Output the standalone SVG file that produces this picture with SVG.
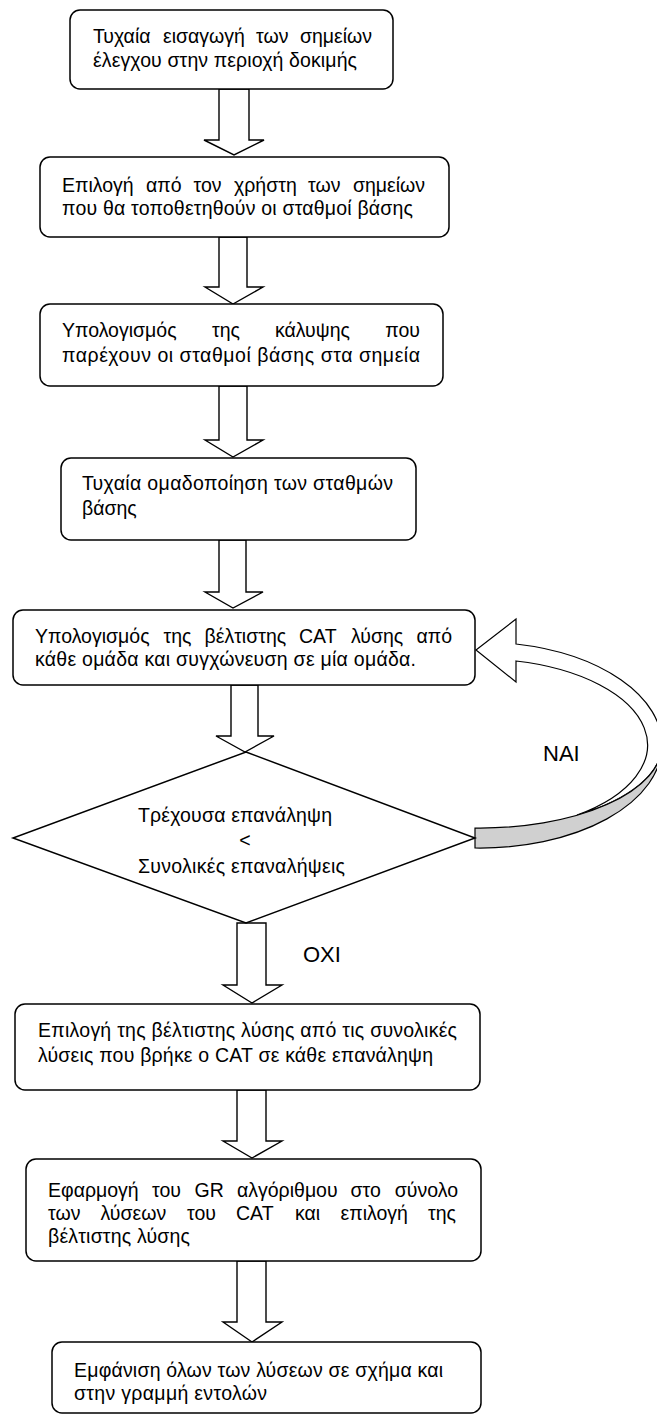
<svg xmlns="http://www.w3.org/2000/svg" width="657" height="1421" viewBox="0 0 657 1421">
<style>
.box{fill:#fff;stroke:#000;stroke-width:1.5}
.arr{fill:#fff;stroke:#000;stroke-width:1.4;stroke-linejoin:miter}
.t{font-family:"Liberation Sans","DejaVu Sans",sans-serif;font-size:19.5px;fill:#000}
.e{text-anchor:end}
.lbl{font-family:"Liberation Sans","DejaVu Sans",sans-serif;font-size:22px;fill:#000}
</style>
<rect width="657" height="1421" fill="#fff"/>
<g id="connectors">
  <polygon class="arr" points="219,89 249,89 249,140 264,140 234,155 204,140 219,140"/>
  <polygon class="arr" points="219,237 247,237 247,287 263,287 233,304 205,287 219,287"/>
  <polygon class="arr" points="219,386 247,386 247,440 263,440 233,457 205,440 219,440"/>
  <polygon class="arr" points="219,540 246,540 246,592 263,592 233,608 205,592 219,592"/>
  <polygon class="arr" points="231,685 258,685 258,736 274,736 245,752 216,736 231,736"/>
  <polygon class="arr" points="237,923 266,923 266,985 282,985 252,1003 223,985 237,985"/>
  <polygon class="arr" points="237,1090 266,1090 266,1141 282,1141 252,1158 223,1141 237,1141"/>
  <polygon class="arr" points="237,1261 266,1261 266,1322 282,1322 252,1342 223,1322 237,1322"/>
  <g id="loop-arrow">
    <path d="M516,644 L516,619 L476,650 L516,682 L516,661 A168,86 0 0 1 577,815 A182,83 0 0 0 662,745 A182,103 0 0 0 516,644 Z" fill="#fff" stroke="#000" stroke-width="1.2"/>
    <path d="M662,745 A182,103 0 0 1 475,848 L475,828 A182,83 0 0 0 662,745 Z" fill="#d0d0d0" stroke="#000" stroke-width="1.2"/>
  </g>
  <text class="lbl" x="543" y="761">ΝΑΙ</text>
  <text class="lbl" x="303" y="962">ΟΧΙ</text>
</g>
<g id="node1">
  <rect class="box" x="70" y="10" width="323" height="79" rx="10"/>
  <text class="t" x="93" y="43">Τυχαία</text>
  <text class="t" x="163" y="43">εισαγωγή</text>
  <text class="t" x="256" y="43">των</text>
  <text class="t e" x="372" y="43">σημείων</text>
  <text class="t" x="93" y="67" textLength="264" lengthAdjust="spacing">έλεγχου στην περιοχή δοκιμής</text>
</g>
<g id="node2">
  <rect class="box" x="40" y="157" width="409" height="80" rx="10"/>
  <text class="t" x="62" y="192">Επιλογή</text>
  <text class="t" x="146" y="192">από</text>
  <text class="t" x="193.5" y="192">τον</text>
  <text class="t" x="234" y="192">χρήστη</text>
  <text class="t" x="308" y="192">των</text>
  <text class="t e" x="425" y="192">σημείων</text>
  <text class="t" x="62" y="215" textLength="351" lengthAdjust="spacing">που θα τοποθετηθούν οι σταθμοί βάσης</text>
</g>
<g id="node3">
  <rect class="box" x="40" y="304" width="403" height="82" rx="10"/>
  <text class="t" x="62" y="337">Υπολογισμός</text>
  <text class="t" x="212" y="337">της</text>
  <text class="t" x="275" y="337">κάλυψης</text>
  <text class="t e" x="420" y="337">που</text>
  <text class="t" x="62" y="362" textLength="358" lengthAdjust="spacing">παρέχουν οι σταθμοί βάσης στα σημεία</text>
</g>
<g id="node4">
  <rect class="box" x="61" y="458" width="355" height="82" rx="10"/>
  <text class="t" x="82" y="490" textLength="311" lengthAdjust="spacing">Τυχαία ομαδοποίηση των σταθμών</text>
  <text class="t" x="82" y="515">βάσης</text>
</g>
<g id="node5">
  <rect class="box" x="13" y="610" width="462" height="75" rx="10"/>
  <text class="t" x="35" y="643">Υπολογισμός</text>
  <text class="t" x="163.5" y="643">της</text>
  <text class="t" x="204.5" y="643">βέλτιστης</text>
  <text class="t" x="299" y="643">CAT</text>
  <text class="t" x="351" y="643">λύσης</text>
  <text class="t e" x="452" y="643">από</text>
  <text class="t" x="35" y="666" textLength="381" lengthAdjust="spacing">κάθε ομάδα και συγχώνευση σε μία ομάδα.</text>
</g>
<g id="decision">
  <polygon class="box" points="246,752 475,838 246,923 13,838"/>
  <text class="t" x="138" y="822" textLength="194" lengthAdjust="spacing">Τρέχουσα επανάληψη</text>
  <text class="t" x="245" y="847" text-anchor="middle">&lt;</text>
  <text class="t" x="138" y="873" textLength="207" lengthAdjust="spacing">Συνολικές επαναλήψεις</text>
</g>
<g id="node6">
  <rect class="box" x="15" y="1004" width="465" height="86" rx="10"/>
  <text class="t" x="38" y="1037" textLength="419" lengthAdjust="spacing">Επιλογή της βέλτιστης λύσης από τις συνολικές</text>
  <text class="t" x="38" y="1062" textLength="395" lengthAdjust="spacing">λύσεις που βρήκε ο CAT σε κάθε επανάληψη</text>
</g>
<g id="node7">
  <rect class="box" x="26" y="1159" width="455" height="102" rx="10"/>
  <text class="t" x="48" y="1197">Εφαρμογή</text>
  <text class="t" x="152" y="1197">του</text>
  <text class="t" x="194.5" y="1197">GR</text>
  <text class="t" x="237" y="1197">αλγόριθμου</text>
  <text class="t" x="350.5" y="1197">στο</text>
  <text class="t e" x="458" y="1197">σύνολο</text>
  <text class="t" x="48" y="1220">των</text>
  <text class="t" x="100.5" y="1220">λύσεων</text>
  <text class="t" x="187" y="1220">του</text>
  <text class="t" x="236" y="1220">CAT</text>
  <text class="t" x="295" y="1220">και</text>
  <text class="t" x="340.5" y="1220">επιλογή</text>
  <text class="t e" x="456" y="1220">της</text>
  <text class="t" x="48" y="1243" textLength="142" lengthAdjust="spacing">βέλτιστης λύσης</text>
</g>
<g id="node8">
  <rect class="box" x="52" y="1342" width="429" height="71" rx="10"/>
  <text class="t" x="74" y="1377" textLength="369" lengthAdjust="spacing">Εμφάνιση όλων των λύσεων σε σχήμα και</text>
  <text class="t" x="74" y="1400" textLength="193" lengthAdjust="spacing">στην γραμμή εντολών</text>
</g>
</svg>
